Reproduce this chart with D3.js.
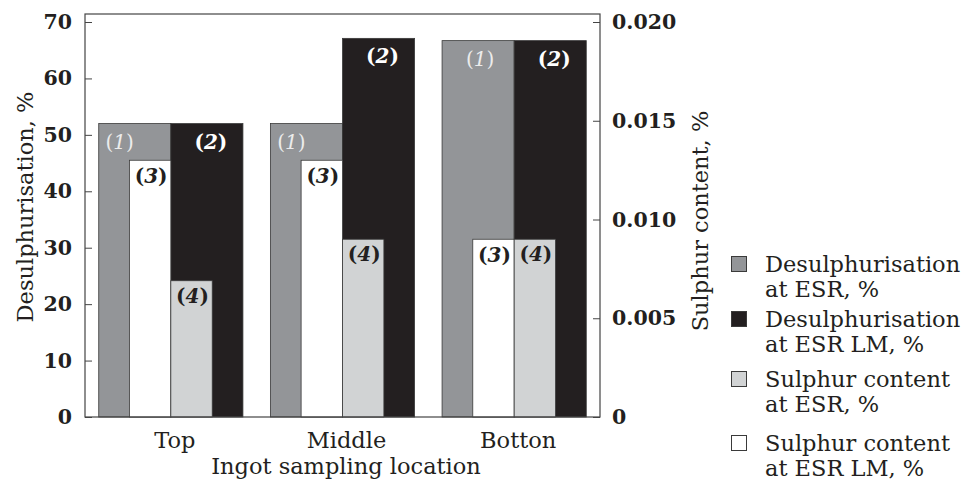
<!DOCTYPE html>
<html>
<head>
<meta charset="utf-8">
<script src="https://cdn.jsdelivr.net/npm/d3@7"></script>
<style>
  body { margin: 0; background: #fff; }
  svg { display: block; font-family: "DejaVu Serif", "Liberation Serif", serif; }
</style>
</head>
<body>
<div id="chart"></div>
<script>
// values
const locations = ["Top", "Middle", "Botton"];
const desulphESR = [52, 52, 66.7];          // (1) left axis
const desulphESRLM = [52, 67.1, 66.7];      // (2) left axis
const sulphurESRLM = [0.013, 0.013, 0.009]; // (3) right axis
const sulphurESR = [0.0069, 0.009, 0.009];  // (4) right axis

const leftTicks = [0, 10, 20, 30, 40, 50, 60, 70];
const rightTicks = [0, 0.005, 0.010, 0.015, 0.020];

const legendLabels = [
    ["Desulphurisation", "at ESR, %"],
    ["Desulphurisation", "at ESR LM, %"],
    ["Sulphur content", "at ESR, %"],
    ["Sulphur content", "at ESR LM, %"]
];

const colors = { gray: "#939598", black: "#231f20", light: "#d1d3d4", white: "#ffffff" };
const legendColors = [colors.gray, colors.black, colors.light, colors.white];

const W = 965, H = 481;
const plot = { left: 85, right: 600, top: 14, bottom: 417 };
const labelSize = "22.5px";

const svg = d3.select("#chart")
    .append("svg")
    .attr("width", W)
    .attr("height", H);

const x = d3.scaleBand()
    .domain(locations)
    .range([plot.left, plot.right])
    .paddingInner(0.16)
    .paddingOuter(0.08);

const x1 = d3.scaleBand()
    .domain(["esr", "lm"])
    .range([0, x.bandwidth()]);

const smallW = x.bandwidth() * 0.287;

const y = d3.scaleLinear()
    .domain([0, 70])
    .range([plot.bottom, 22]);

const yR = d3.scaleLinear()
    .domain([0, 0.02])
    .range([plot.bottom, 22]);

const rows = locations.map((loc, i) => ({
    loc: loc,
    d1: desulphESR[i],
    d2: desulphESRLM[i],
    s3: sulphurESRLM[i],
    s4: sulphurESR[i]
}));

// big bars first, narrow ones on top
const g = svg.append("g");

g.selectAll(".bar1")
    .data(rows)
    .enter()
    .append("rect")
    .attr("x", d => x(d.loc) + x1("esr"))
    .attr("y", d => y(d.d1))
    .attr("width", x1.bandwidth())
    .attr("height", d => plot.bottom - y(d.d1))
    .attr("fill", colors.gray)
    .attr("stroke", "#3a3a3a")
    .attr("stroke-width", 0.8);

g.selectAll(".bar2")
    .data(rows)
    .enter()
    .append("rect")
    .attr("x", d => x(d.loc) + x1("lm"))
    .attr("y", d => y(d.d2))
    .attr("width", x1.bandwidth())
    .attr("height", d => plot.bottom - y(d.d2))
    .attr("fill", colors.black)
    .attr("stroke", "#3a3a3a")
    .attr("stroke-width", 0.8);

g.selectAll(".bar3")
    .data(rows)
    .enter()
    .append("rect")
    .attr("x", d => x(d.loc) + x.bandwidth() / 2 - smallW)
    .attr("y", d => yR(d.s3))
    .attr("width", smallW)
    .attr("height", d => plot.bottom - yR(d.s3))
    .attr("fill", colors.white)
    .attr("stroke", "#3a3a3a")
    .attr("stroke-width", 0.8);

g.selectAll(".bar4")
    .data(rows)
    .enter()
    .append("rect")
    .attr("x", d => x(d.loc) + x.bandwidth() / 2)
    .attr("y", d => yR(d.s4))
    .attr("width", smallW)
    .attr("height", d => plot.bottom - yR(d.s4))
    .attr("fill", colors.light)
    .attr("stroke", "#3a3a3a")
    .attr("stroke-width", 0.8);

// bar tags like "(1)", digit in italics
function tag(sel, num, color, weight) {
    const t = sel.append("text")
        .attr("text-anchor", "middle")
        .style("font-size", "20px")
        .style("font-weight", weight)
        .style("fill", color);
    t.append("tspan").text("(");
    t.append("tspan").style("font-style", "italic").text(num);
    t.append("tspan").text(")");
    return t;
}

rows.forEach(d => {
    const left = x(d.loc);
    const mid = left + x.bandwidth() / 2;
    // (1) sits in the strip left of the white bar if that one is tall
    const crowded = yR(d.s3) - y(d.d1) < 60;
    const x1pos = crowded ? left + x1("esr") + 21 : left + x1("esr") + x1.bandwidth() / 2 + 2;
    tag(g, "1", "#ececec", "normal")
        .attr("x", x1pos)
        .attr("y", y(d.d1) + 25);
    tag(g, "2", "#ffffff", "bold")
        .attr("x", left + x1("lm") + x1.bandwidth() / 2 + 4)
        .attr("y", y(d.d2) + 25);
    tag(g, "3", colors.black, "bold")
        .attr("x", mid - smallW / 2 + 1)
        .attr("y", yR(d.s3) + 23);
    tag(g, "4", colors.black, "bold")
        .attr("x", mid + smallW / 2 + 1)
        .attr("y", yR(d.s4) + 22);
});

// frame
svg.append("rect")
    .attr("x", plot.left)
    .attr("y", plot.top)
    .attr("width", plot.right - plot.left)
    .attr("height", plot.bottom - plot.top)
    .attr("fill", "none")
    .attr("stroke", "#444")
    .attr("stroke-width", 1.2);

// axes, ticks pointing inward
const yAxis = svg.append("g")
    .attr("transform", `translate(${plot.left},0)`)
    .call(d3.axisLeft(y).tickValues(leftTicks).tickSize(-7).tickPadding(13));

const yAxisR = svg.append("g")
    .attr("transform", `translate(${plot.right},0)`)
    .call(d3.axisRight(yR).tickValues(rightTicks).tickSize(-7).tickPadding(12)
        .tickFormat(d => d === 0 ? "0" : d3.format(".3f")(d)));

[yAxis, yAxisR].forEach(a => {
    a.select(".domain").remove();
    a.selectAll("line").attr("stroke", "#444");
    a.selectAll("text")
        .style("font-family", "DejaVu Serif")
        .style("font-size", "20.5px")
        .style("font-weight", "bold")
        .style("fill", "#231f20");
});

// category labels
svg.selectAll(".xlab")
    .data(locations)
    .enter()
    .append("text")
    .attr("x", d => x(d) + x.bandwidth() / 2 + 4)
    .attr("y", 448)
    .attr("text-anchor", "middle")
    .style("font-size", labelSize)
    .style("fill", "#231f20")
    .text(d => d);

svg.append("text")
    .attr("x", 346)
    .attr("y", 473.5)
    .attr("text-anchor", "middle")
    .style("font-size", labelSize)
    .style("fill", "#231f20")
    .text("Ingot sampling location");

svg.append("text")
    .attr("transform", "rotate(-90)")
    .attr("x", -207)
    .attr("y", 33)
    .attr("text-anchor", "middle")
    .style("font-size", labelSize)
    .style("fill", "#231f20")
    .text("Desulphurisation, %");

svg.append("text")
    .attr("transform", "rotate(-90)")
    .attr("x", -221)
    .attr("y", 708)
    .attr("text-anchor", "middle")
    .style("font-size", labelSize)
    .style("fill", "#231f20")
    .text("Sulphur content, %");

// legend
const legendY = [264, 319, 379, 443];
const legend = svg.selectAll(".legend")
    .data(legendLabels)
    .enter()
    .append("g")
    .attr("class", "legend")
    .attr("transform", (d, i) => `translate(731.5, ${legendY[i]})`);

legend.append("rect")
    .attr("x", 0)
    .attr("y", -7.5)
    .attr("width", 15)
    .attr("height", 15)
    .attr("fill", (d, i) => legendColors[i])
    .attr("stroke", "#3a3a3a")
    .attr("stroke-width", 1);

legend.append("text")
    .attr("x", 33.5)
    .attr("y", 7.7)
    .style("font-size", labelSize)
    .style("fill", "#231f20")
    .text(d => d[0]);

legend.append("text")
    .attr("x", 33.5)
    .attr("y", 33)
    .style("font-size", labelSize)
    .style("fill", "#231f20")
    .text(d => d[1]);
</script>
</body>
</html>
